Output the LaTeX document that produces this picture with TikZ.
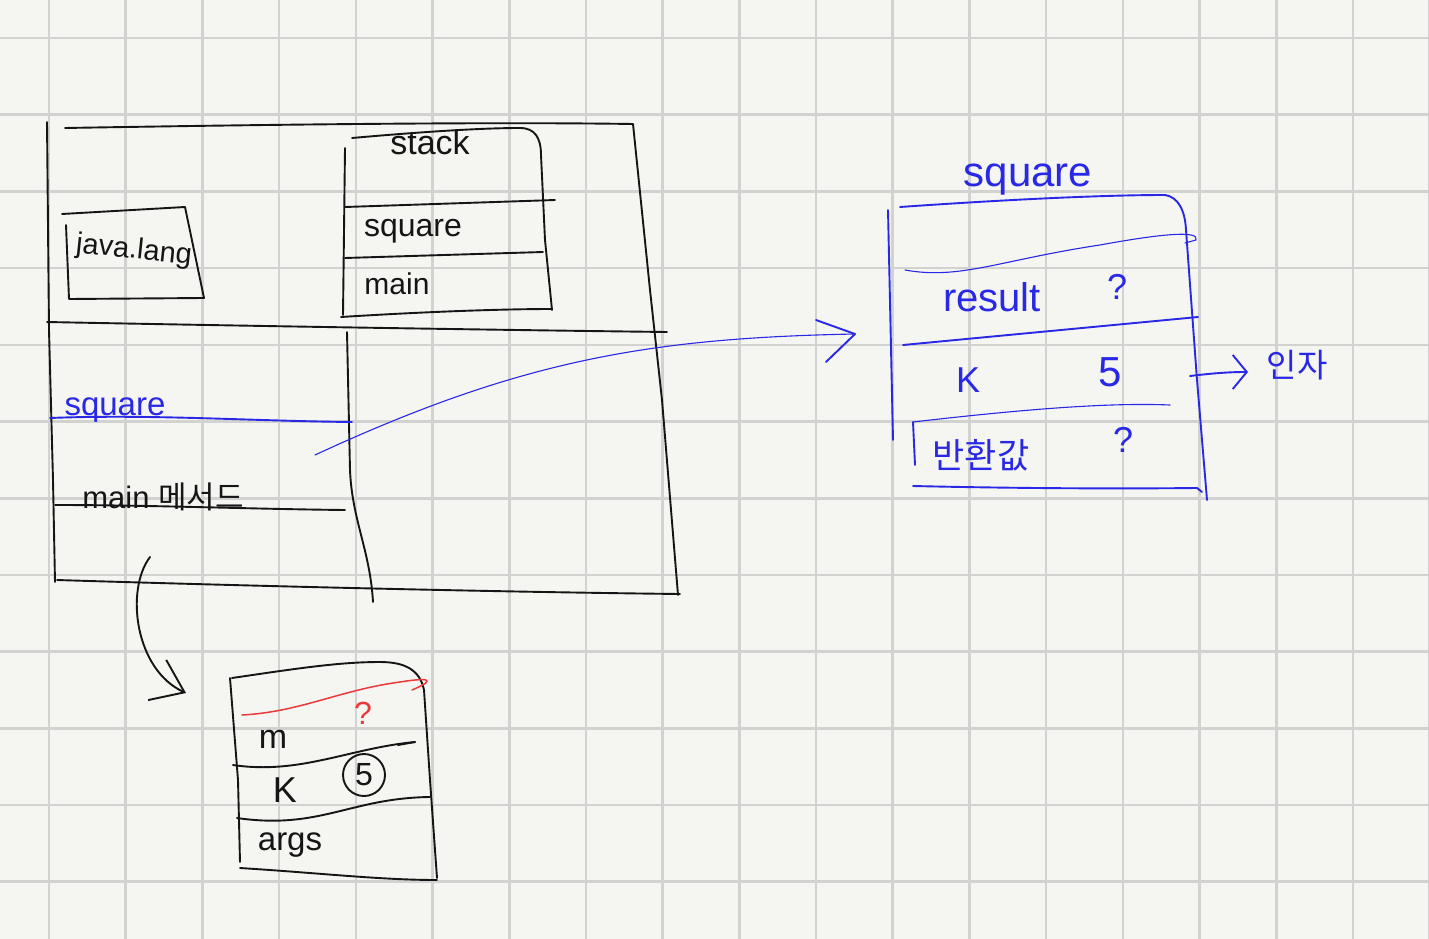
\documentclass[tikz,border=0pt]{standalone}
\usepackage{fontspec}
\setmainfont{Liberation Sans}
\newfontfamily\kr{Noto Sans CJK KR}
\usetikzlibrary{arrows.meta}
\definecolor{paper}{HTML}{F5F5F1}
\definecolor{gridc}{HTML}{D2D2D0}
\definecolor{inkblack}{HTML}{151515}
\definecolor{inkblue}{HTML}{2828E6}
\definecolor{inkred}{HTML}{EA3A3A}
\begin{document}
\begin{tikzpicture}[x=1pt,y=-1pt,line cap=round,line join=round,
  gridline/.style={draw=gridc,line width=2.6pt},
  ink/.style={draw=inkblack,line width=1.9pt},
  bink/.style={draw=inkblue,line width=1.9pt},
  rink/.style={draw=inkred,line width=1.5pt},
  thinb/.style={draw=inkblue,line width=1.1pt},
  hand/.style={font=\fontsize{30}{30}\selectfont,text=inkblack,inner sep=0pt},
  bhand/.style={hand,text=inkblue},
  rhand/.style={hand,text=inkred},
  chev/.style={-{Straight Barb[length=30pt,width=44pt,line width=1.9pt]}},
  smallchev/.style={-{Straight Barb[length=14pt,width=34pt,line width=1.9pt]}}]
\fill[paper] (0,0) rectangle (1429,939);
\useasboundingbox (0,0) rectangle (1429,939);
\foreach \i in {-1,...,18} \draw[gridline] ({49+76.7*\i},0) -- ({49+76.7*\i},939);
\foreach \j in {0,...,11} \draw[gridline] (0,{38+76.7*\j}) -- (1429,{38+76.7*\j});

% ---- big memory box ----
\draw[ink] (47,122) -- (49,330) -- (53,480) -- (55,582);
\draw[ink] (65,128) .. controls (300,124) and (500,122) .. (633,124) -- (650,290) -- (662,400) -- (678,595);
\draw[ink] (47,322) .. controls (250,326) and (500,330) .. (667,332);
\draw[ink] (57,580) .. controls (250,586) and (500,592) .. (680,594);
\draw[ink] (347,332) -- (350,470) .. controls (352,520) and (370,550) .. (373,602);

% java.lang box
\draw[ink] (62,214) -- (185,207) -- (204,298) -- (69,299) -- (66,225);
\node[hand,font=\fontsize{29}{29}\selectfont,rotate=-6] (javalang) at (134,251) {java.lang};

% stack box
\draw[ink] (345,148) -- (343,315);
\draw[ink] (352,138) .. controls (420,132) and (480,128) .. (520,128) .. controls (535,128) and (541,138) .. (541,155) -- (545,240) -- (552,310);
\draw[ink] (341,317) .. controls (420,312) and (500,309) .. (552,309);
\draw[ink] (345,207) -- (555,200);
\draw[ink] (345,258) -- (543,252);
\node[hand,font=\fontsize{34}{34}\selectfont] (stack) at (430,142) {stack};
\node[hand,font=\fontsize{32}{32}\selectfont] (stsquare) at (413,231) {square};
\node[hand] (stmain) at (397,284) {main};

% frames inside the lower left
\node[bhand,font=\fontsize{33}{33}\selectfont] (fsquare) at (115,410) {square};
\draw[bink] (50,418) .. controls (150,414) and (250,421) .. (352,422);
\node[hand,font=\fontsize{31}{31}\selectfont] (fmain) at (163,497) {main {\kr 메서드}};
\draw[ink] (55,505) .. controls (150,505) and (250,509) .. (345,510);
\coordinate (sqsrc) at (315,455);
\coordinate (mainsrc) at (150,557);

% ---- square frame (right) ----
\node[bhand,font=\fontsize{42}{42}\selectfont] (title) at (1028,180) {square};
\draw[bink] (888,210) -- (893,440);
\draw[bink] (913,422) -- (915,465);
\draw[bink] (900,207) .. controls (1000,200) and (1100,195) .. (1165,195) .. controls (1178,197) and (1185,210) .. (1186,230) -- (1197,380) -- (1207,500);
\draw[bink] (913,486) .. controls (1000,488) and (1100,489) .. (1197,488) -- (1202,492);
\draw[thinb] (905,270) .. controls (960,280) and (1000,260) .. (1100,245) .. controls (1160,234) and (1200,230) .. (1196,240) -- (1185,243);
\draw[bink] (903,345) -- (1198,317);
\draw[thinb] (913,422) .. controls (1000,412) and (1100,402) .. (1170,405);
\node[bhand,font=\fontsize{40}{40}\selectfont] (result) at (992,297) {result};
\node[bhand,font=\fontsize{36}{36}\selectfont] (q1) at (1117,287) {?};
\node[bhand,font=\fontsize{36}{36}\selectfont] (kk) at (968,380) {K};
\node[bhand,font=\fontsize{42}{42}\selectfont] (five) at (1110,372) {5};
\node[bhand,font=\fontsize{35}{35}\selectfont\kr] (ret) at (981,455) {반환값};
\node[bhand,font=\fontsize{36}{36}\selectfont] (q2) at (1123,440) {?};
\coordinate (argsrc) at (1190,376);
\node[bhand,font=\fontsize{33}{33}\selectfont\kr] (inja) at (1297,365) {인자};
\coordinate (sqarrow) at (855,334);

% ---- main frame (bottom) ----
\draw[ink] (230,678) -- (238,780) -- (240,862);
\draw[ink] (232,678) .. controls (300,668) and (340,662) .. (380,662) .. controls (405,662) and (420,670) .. (424,690) -- (430,780) -- (437,878);
\draw[ink] (240,868) .. controls (320,873) and (380,880) .. (437,880);
\draw[rink] (242,715) .. controls (300,712) and (340,690) .. (400,682) .. controls (425,678) and (440,678) .. (412,690);
\node[rhand,font=\fontsize{32}{32}\selectfont] (mq) at (363,713) {?};
\node[hand,font=\fontsize{34}{34}\selectfont] (mm) at (273,739) {m};
\draw[ink] (233,765) .. controls (300,775) and (350,748) .. (415,742);
\draw[ink] (398,745) -- (415,742);
\node[hand,font=\fontsize{36}{36}\selectfont] (mk) at (285,790) {K};
\node[hand,font=\fontsize{32}{32}\selectfont] (m5) at (364,775) {5};
\draw[ink] (m5) circle (21);
\draw[ink] (237,818) .. controls (320,830) and (350,798) .. (430,797);
\node[hand,font=\fontsize{33}{33}\selectfont] (margs) at (290,845) {args};
\coordinate (mainframe) at (186,693);

% ---- connectors ----
\draw[thinb] (sqsrc) .. controls (520,360) and (650,338) .. (sqarrow);
\draw[bink] (816,320) -- (sqarrow) -- (826,362);
\draw[bink,smallchev] (argsrc) .. controls (1215,373) and (1230,372) .. (1248,372);
\draw[ink,chev] (mainsrc) .. controls (125,590) and (135,670) .. (mainframe);
\end{tikzpicture}
\end{document}
